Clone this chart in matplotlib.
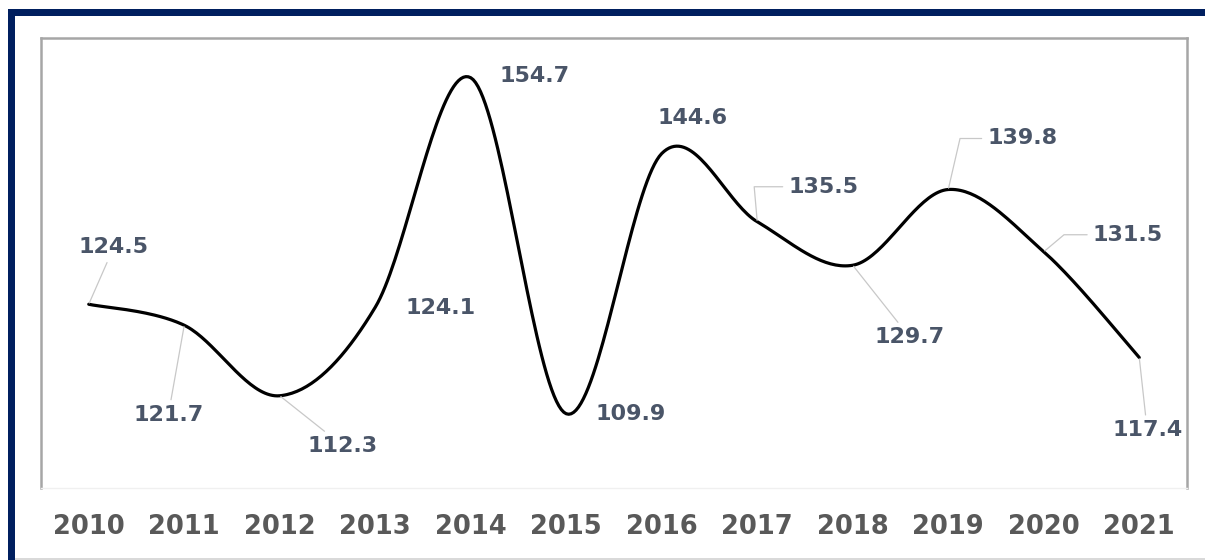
import matplotlib
matplotlib.use("Agg")
import matplotlib.pyplot as plt
from matplotlib.patches import Rectangle
import numpy as np

# valores anuales
anios = ["2010", "2011", "2012", "2013", "2014", "2015",
         "2016", "2017", "2018", "2019", "2020", "2021"]
valores = [124.5, 121.7, 112.3, 124.1, 154.7, 109.9,
           144.6, 135.5, 129.7, 139.8, 131.5, 117.4]

# desplazamiento de cada etiqueta (pixeles) y si lleva linea guia
desp = [(25, 57), (-16, -90), (63, -50), (65, -1), (64, 2), (64, 0),
        (31, 35), (66, 35), (57, -72), (74, 51), (84, 17), (8, -73)]
guia = [True, True, True, False, False, False,
        False, True, True, True, True, True]
codo = [None, None, None, None, None, None,
        None, 95, None, 77, 40, None]


def suavizar(xs, ys, n=40):
    # curva bezier tipo "linea suavizada" de excel
    p = np.column_stack([xs, ys]).astype(float)
    ext = np.vstack([p[0], p, p[-1]])
    t = np.linspace(0, 1, n)[:, None]
    trozos = []
    for i in range(len(p) - 1):
        p0 = ext[i + 1]
        p3 = ext[i + 2]
        c1 = p0 + (ext[i + 2] - ext[i]) / 6.0
        c2 = p3 - (ext[i + 3] - ext[i + 1]) / 6.0
        seg = ((1 - t) ** 3) * p0 + 3 * ((1 - t) ** 2) * t * c1 \
            + 3 * (1 - t) * t ** 2 * c2 + t ** 3 * p3
        trozos.append(seg if i == 0 else seg[1:])
    c = np.vstack(trozos)
    return c[:, 0], c[:, 1]


fig = plt.figure(figsize=(12.05, 5.6), dpi=100)
fig.patch.set_facecolor("white")

# marco azul arriba y a la izquierda
W, H = 1205.0, 560.0
azul = "#001f5f"
fig.add_artist(Rectangle((8 / W, 1 - 16 / H), 1 - 8 / W, 7 / H,
                         transform=fig.transFigure, color=azul, lw=0))
fig.add_artist(Rectangle((8 / W, 0), 7 / W, 1 - 9 / H,
                         transform=fig.transFigure, color=azul, lw=0))
fig.add_artist(Rectangle((15 / W, 0), 1 - 15 / W, 2 / H,
                         transform=fig.transFigure, color="#d9d9d9", lw=0))

ax = fig.add_axes([41 / W, 1 - 488 / H, 1146 / W, 450 / H])
x = np.arange(len(anios))
sx, sy = suavizar(x, valores)
ax.plot(sx, sy, color="black", lw=2.3, solid_capstyle="round")

for i, v in enumerate(valores):
    props = None
    if guia[i]:
        props = dict(arrowstyle="-", color="#c8c8c8", lw=0.9,
                     shrinkA=2, shrinkB=1)
        if codo[i] is not None:
            props["connectionstyle"] = "angle,angleA=0,angleB=%d,rad=0" % codo[i]
            props["relpos"] = (0, 0.5)
    ax.annotate("%.1f" % v, xy=(i, v), xytext=desp[i],
                textcoords="offset pixels", ha="center", va="center",
                fontsize=16, fontweight="bold", color="#4a5568",
                arrowprops=props)

ax.set_xlim(-0.5, 11.5)
ax.set_ylim(100, 160)
ax.set_xticks(x)
ax.set_xticklabels(anios, fontsize=18.5, fontweight="bold", color="#595959")
ax.tick_params(axis="x", length=0, pad=19)
ax.set_yticks([])
for lado in ["left", "top", "right"]:
    ax.spines[lado].set_color("#a6a6a6")
    ax.spines[lado].set_linewidth(1.8)
ax.spines["bottom"].set_color("#f0f0f0")
ax.spines["bottom"].set_linewidth(1.0)

fig.savefig("out.png", dpi=100)
